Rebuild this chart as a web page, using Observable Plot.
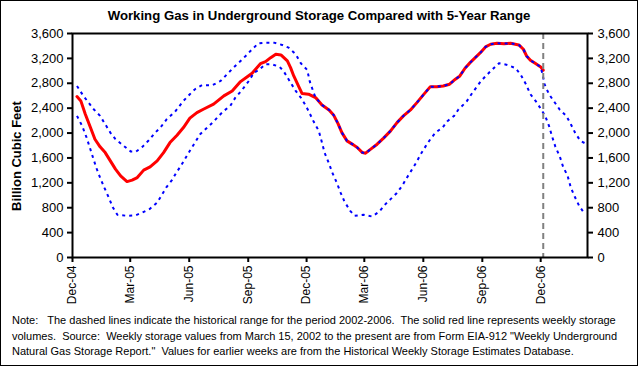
<!DOCTYPE html>
<html><head><meta charset="utf-8">
<script src="https://cdn.jsdelivr.net/npm/d3@7"></script>
<script src="https://cdn.jsdelivr.net/npm/@observablehq/plot@0.6"></script>
<style>
body{margin:0;background:#fff;}
#wrap{position:relative;width:638px;height:366px;background:#fff;font-family:Arial,"Liberation Sans",sans-serif;overflow:hidden}
#border{position:absolute;left:0;top:0;width:636px;height:364px;border:1px solid #000;pointer-events:none}
#title{position:absolute;left:0;width:638px;top:8px;text-align:center;font-weight:bold;font-size:13.2px;line-height:16px}
#ylab{position:absolute;left:16px;top:156px;transform:translate(-50%,-50%) rotate(-90deg);font-weight:bold;font-size:13px;white-space:nowrap}
#note{position:absolute;left:12px;top:313px;font-size:11px;line-height:15.5px;white-space:pre}
#chart{position:absolute;left:0;top:0}
</style></head>
<body>
<div id="wrap">
  <div id="chart"></div>
  <div id="title">Working Gas in Underground Storage Compared with 5-Year Range</div>
  <div id="ylab">Billion Cubic Feet</div>
  <div id="note">Note:   The dashed lines indicate the historical range for the period 2002-2006.  The solid red line represents weekly storage
volumes.  Source:  Weekly storage values from March 15, 2002 to the present are from Form EIA-912 "Weekly Underground
Natural Gas Storage Report."  Values for earlier weeks are from the Historical Weekly Storage Estimates Database.</div>
  <div id="border"></div>
</div>
<script>
const redDates = ["2004-12-08","2004-12-14","2004-12-21","2004-12-29","2005-01-05","2005-01-13","2005-01-21","2005-01-29","2005-02-06","2005-02-14","2005-02-24","2005-03-04","2005-03-12","2005-03-22","2005-04-01","2005-04-12","2005-04-22","2005-05-02","2005-05-13","2005-05-23","2005-06-02","2005-06-13","2005-06-23","2005-07-09","2005-07-25","2005-08-07","2005-08-20","2005-08-30","2005-09-07","2005-09-20","2005-09-28","2005-10-06","2005-10-14","2005-10-22","2005-11-01","2005-11-06","2005-11-11","2005-11-19","2005-11-24","2005-12-04","2005-12-15","2005-12-25","2006-01-05","2006-01-12","2006-01-19","2006-01-25","2006-02-02","2006-02-12","2006-02-18","2006-02-26","2006-03-03","2006-03-11","2006-03-21","2006-03-31","2006-04-11","2006-04-21","2006-05-01","2006-05-12","2006-05-22","2006-06-01","2006-06-12","2006-06-22","2006-07-02","2006-07-12","2006-07-21","2006-07-28","2006-08-05","2006-08-13","2006-08-21","2006-08-29","2006-09-06","2006-09-14","2006-09-24","2006-10-05","2006-10-15","2006-10-28","2006-11-04","2006-11-09","2006-11-15","2006-11-23","2006-12-01","2006-12-05"];
const redValues = [2586,2517,2303,2088,1901,1778,1686,1553,1420,1312,1220,1243,1285,1404,1457,1553,1686,1847,1966,2088,2239,2329,2383,2464,2597,2677,2827,2902,2961,3115,3148,3212,3267,3255,3159,3051,2918,2741,2634,2624,2570,2452,2372,2292,2152,2007,1874,1810,1767,1686,1677,1741,1821,1918,2035,2168,2276,2372,2489,2613,2746,2746,2757,2785,2865,2918,3042,3132,3212,3292,3384,3427,3443,3437,3443,3416,3347,3239,3170,3116,3063,3009];

const upperDates = ["2004-12-08","2004-12-18","2005-01-03","2005-01-13","2005-01-21","2005-01-29","2005-02-06","2005-02-17","2005-03-02","2005-03-10","2005-03-20","2005-03-30","2005-04-09","2005-04-17","2005-04-27","2005-05-10","2005-05-23","2005-06-02","2005-06-10","2005-06-21","2005-07-07","2005-07-20","2005-07-30","2005-08-09","2005-08-20","2005-08-28","2005-09-07","2005-09-17","2005-09-28","2005-10-11","2005-10-24","2005-11-03","2005-11-14","2005-11-22","2005-12-02","2005-12-06","2005-12-12","2005-12-15","2005-12-25","2006-01-05","2006-01-12","2006-01-19","2006-01-25","2006-02-02","2006-02-12","2006-02-18","2006-02-26","2006-03-03","2006-03-11","2006-03-21","2006-03-31","2006-04-11","2006-04-21","2006-05-01","2006-05-12","2006-05-22","2006-06-01","2006-06-12","2006-06-22","2006-07-02","2006-07-12","2006-07-21","2006-07-28","2006-08-05","2006-08-13","2006-08-21","2006-08-29","2006-09-06","2006-09-14","2006-09-24","2006-10-05","2006-10-15","2006-10-28","2006-11-04","2006-11-09","2006-11-15","2006-11-23","2006-12-01","2006-12-04","2006-12-07","2006-12-14","2006-12-22","2006-12-31","2007-01-10","2007-01-17","2007-01-24","2007-02-01","2007-02-11"];
const upperValues = [2757,2597,2383,2276,2142,2007,1901,1810,1702,1702,1778,1885,2007,2088,2223,2345,2517,2624,2704,2769,2769,2838,2945,3051,3159,3239,3347,3443,3453,3453,3416,3373,3267,3122,3014,2827,2650,2570,2452,2372,2292,2152,2007,1874,1810,1767,1686,1677,1741,1821,1918,2035,2168,2276,2372,2489,2613,2746,2746,2757,2785,2865,2918,3042,3132,3212,3292,3384,3427,3443,3437,3443,3416,3347,3239,3170,3116,3063,2940,2785,2624,2505,2372,2276,2142,1998,1874,1821];

const lowerDates = ["2004-12-08","2004-12-16","2004-12-23","2004-12-28","2005-01-02","2005-01-07","2005-01-13","2005-01-20","2005-01-27","2005-02-02","2005-02-09","2005-02-24","2005-03-10","2005-03-20","2005-03-31","2005-04-12","2005-04-20","2005-04-26","2005-05-05","2005-05-12","2005-05-19","2005-05-26","2005-06-02","2005-06-10","2005-06-18","2005-06-29","2005-07-09","2005-07-17","2005-07-25","2005-08-04","2005-08-12","2005-08-22","2005-09-02","2005-09-10","2005-09-17","2005-09-28","2005-10-08","2005-10-20","2005-10-26","2005-11-06","2005-11-14","2005-11-22","2005-11-30","2005-12-06","2005-12-12","2005-12-20","2005-12-25","2005-12-29","2006-01-05","2006-01-10","2006-01-17","2006-01-23","2006-01-29","2006-02-07","2006-02-14","2006-02-28","2006-03-13","2006-03-24","2006-04-03","2006-04-11","2006-04-20","2006-04-29","2006-05-05","2006-05-13","2006-05-21","2006-05-28","2006-06-05","2006-06-12","2006-06-20","2006-07-01","2006-07-09","2006-07-19","2006-07-26","2006-08-07","2006-08-15","2006-08-30","2006-09-08","2006-09-17","2006-09-27","2006-10-10","2006-10-23","2006-10-31","2006-11-08","2006-11-15","2006-11-23","2006-11-30","2006-12-08","2006-12-14","2006-12-19","2006-12-24","2006-12-31","2007-01-05","2007-01-12","2007-01-17","2007-01-23","2007-01-30","2007-02-08"];
const lowerValues = [2276,2115,1927,1767,1606,1445,1285,1114,953,803,686,670,681,723,777,883,1018,1124,1243,1365,1473,1596,1714,1847,1982,2088,2184,2276,2356,2436,2570,2688,2838,2971,3009,3106,3106,3063,2998,2811,2677,2570,2436,2313,2184,2035,1847,1686,1510,1365,1205,1044,899,750,670,686,659,734,858,938,1028,1151,1259,1392,1526,1661,1794,1901,2007,2088,2195,2276,2383,2500,2624,2838,2934,3026,3122,3095,3042,2934,2785,2624,2517,2409,2276,2115,1938,1778,1617,1457,1312,1124,980,830,697];

const xTickDates = ["2004-12-01","2005-03-01","2005-06-01","2005-09-01","2005-12-01","2006-03-01","2006-06-01","2006-09-01","2006-12-01"];
const yTicks = [0,400,800,1200,1600,2000,2400,2800,3200,3600];
const xDomain = ["2004-12-01","2007-02-12"];
const currentWeek = ["2006-12-05"];

const parse = d3.utcParse("%Y-%m-%d");
const toRows = (ds, vs) => ds.map((d, i) => ({date: parse(d), value: vs[i]}));
const red = toRows(redDates, redValues);
const upper = toRows(upperDates, upperValues);
const lower = toRows(lowerDates, lowerValues);

const font = "Arial, 'Liberation Sans', sans-serif";
const rangeStyle = {x: "date", y: "value", stroke: "#0000ff", strokeWidth: 2, strokeDasharray: "3,4", strokeLinecap: "butt"};
const chart = Plot.plot({
  width: 638, height: 310,
  marginLeft: 72, marginRight: 51, marginTop: 33, marginBottom: 53,
  style: {fontFamily: font, background: "transparent", color: "#000", overflow: "visible"},
  x: {type: "utc", domain: xDomain.map(parse)},
  y: {domain: [0, 3600]},
  marks: [
    Plot.lineY(red, {x: "date", y: "value", stroke: "#ff0000", strokeWidth: 3}),
    Plot.lineY(upper, rangeStyle),
    Plot.lineY(lower, rangeStyle),
    Plot.ruleX(currentWeek.map(parse), {stroke: "#808080", strokeWidth: 2, strokeDasharray: "6,4"}),
    Plot.frame({stroke: "#000", strokeWidth: 2}),
    Plot.axisY(yTicks, {anchor: "left", tickSize: 5, tickPadding: 4, tickFormat: d3.format(","), fontSize: 13, label: null, strokeWidth: 2}),
    Plot.axisY(yTicks, {anchor: "right", tickSize: 5, tickPadding: 5, tickFormat: d3.format(","), fontSize: 13, label: null, strokeWidth: 2}),
    Plot.axisX(xTickDates.map(parse), {anchor: "bottom", tickSize: 5, tickPadding: 3, tickRotate: -90, tickFormat: d3.utcFormat("%b-%y"), fontSize: 12, label: null, strokeWidth: 2})
  ]
});
document.getElementById("chart").appendChild(chart);
</script>
</body></html>
